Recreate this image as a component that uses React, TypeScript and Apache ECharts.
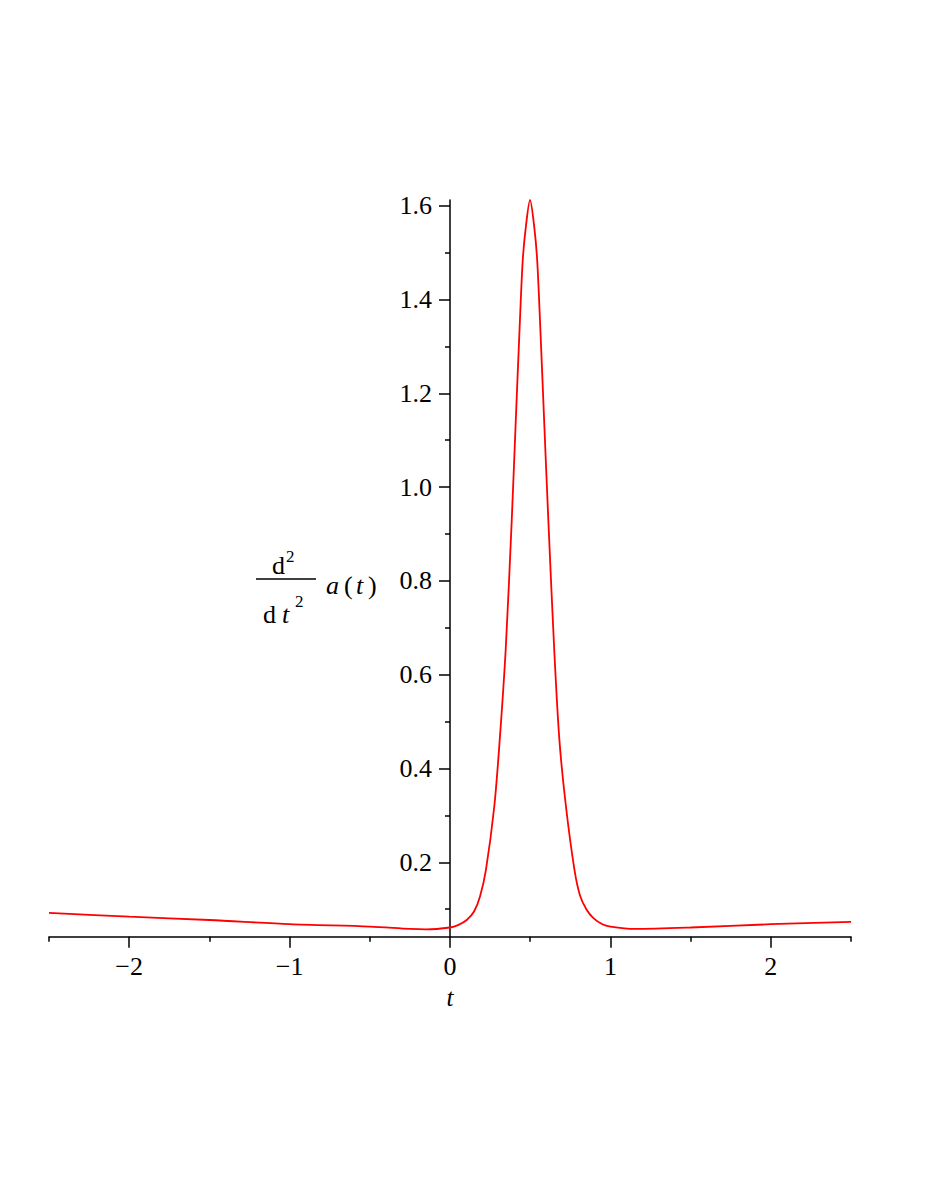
import React, { useEffect, useRef } from "react";
import * as echarts from "echarts";

// Sample points: t and d²a/dt²
const tValues = [
  -2.5, -2.0, -1.5, -1.0, -0.5, -0.25, -0.15, 0.0, 0.05, 0.104, 0.15, 0.187,
  0.224, 0.276, 0.31, 0.347, 0.385, 0.409, 0.434, 0.453, 0.472, 0.499, 0.526,
  0.544, 0.563, 0.588, 0.613, 0.65, 0.682, 0.723, 0.776, 0.81, 0.85, 0.894,
  0.95, 1.0, 1.15, 1.5, 2.0, 2.5,
];
const d2aValues = [
  0.092, 0.084, 0.077, 0.068, 0.063, 0.058, 0.057, 0.061, 0.066, 0.077, 0.095,
  0.127, 0.184, 0.319, 0.461, 0.652, 0.93, 1.133, 1.339, 1.481, 1.552, 1.612,
  1.552, 1.481, 1.339, 1.133, 0.93, 0.652, 0.461, 0.319, 0.184, 0.13, 0.1,
  0.081, 0.068, 0.063, 0.058, 0.061, 0.068, 0.073,
];

const xMajorTicks = [-2, -1, 0, 1, 2];
const xMinorTicks = [-2.5, -1.5, -0.5, 0.5, 1.5, 2.5];
const yMajorTicks = [0.2, 0.4, 0.6, 0.8, 1.0, 1.2, 1.4, 1.6];
const yMinorTicks = [0.1, 0.3, 0.5, 0.7, 0.9, 1.1, 1.3, 1.5];

const X_MIN = -2.5;
const X_MAX = 2.5;
const Y_MIN = 0.0414;
const Y_MAX = 1.612;

const GRID_LEFT = 49;
const GRID_RIGHT = 75;
const CHART_W = 926;
const FONT = '"Liberation Serif", "Times New Roman", serif';

export default function App() {
  const ref = useRef<HTMLDivElement>(null);

  useEffect(() => {
    if (!ref.current) return;
    const chart = echarts.init(ref.current, null, { renderer: "svg" });
    const data = tValues.map((t, i) => [t, d2aValues[i]]);
    const plotW = CHART_W - GRID_LEFT - GRID_RIGHT;
    // shift the y axis so it sits at t = 0
    const yOffset = -((0 - X_MIN) / (X_MAX - X_MIN)) * plotW;

    const txt = (x: number, y: number, text: string, size: number, italic = false) => ({
      type: "text",
      x,
      y,
      style: {
        text,
        fontFamily: FONT,
        fontSize: size,
        fontStyle: italic ? "italic" : "normal",
        fill: "#000",
        textAlign: "left",
        textVerticalAlign: "bottom",
      },
    });

    chart.setOption({
      animation: false,
      backgroundColor: "#fff",
      grid: { left: GRID_LEFT, right: GRID_RIGHT, top: 200, bottom: 262.3, containLabel: false },
      xAxis: [
        {
          type: "value",
          position: "bottom",
          min: X_MIN,
          max: X_MAX,
          axisLine: { show: true, onZero: false, lineStyle: { color: "#000", width: 1.5 } },
          splitLine: { show: false },
          axisTick: {
            show: true,
            customValues: xMajorTicks,
            length: 11,
            lineStyle: { color: "#000", width: 1.5 },
          },
          axisLabel: {
            customValues: xMajorTicks,
            margin: 17,
            fontFamily: FONT,
            fontSize: 26,
            color: "#000",
            formatter: (v: number) => (v < 0 ? "\u2212" + Math.abs(v) : String(v)),
          },
          name: "t",
          nameLocation: "middle",
          nameGap: 46,
          nameTextStyle: { fontFamily: FONT, fontSize: 25, fontStyle: "italic", color: "#000" },
        },
        {
          type: "value",
          position: "bottom",
          min: X_MIN,
          max: X_MAX,
          axisLine: { show: false, onZero: false },
          splitLine: { show: false },
          axisTick: {
            show: true,
            customValues: xMinorTicks,
            length: 5,
            lineStyle: { color: "#000", width: 1.5 },
          },
          axisLabel: { show: false },
        },
      ],
      yAxis: [
        {
          type: "value",
          min: Y_MIN,
          max: Y_MAX,
          position: "left",
          offset: yOffset,
          axisLine: { show: true, onZero: false, lineStyle: { color: "#000", width: 1.5 } },
          splitLine: { show: false },
          axisTick: {
            show: true,
            customValues: yMajorTicks,
            length: 11,
            lineStyle: { color: "#000", width: 1.5 },
          },
          axisLabel: {
            customValues: yMajorTicks,
            margin: 18,
            fontFamily: FONT,
            fontSize: 26,
            color: "#000",
            formatter: (v: number) => v.toFixed(1),
          },
        },
        {
          type: "value",
          min: Y_MIN,
          max: Y_MAX,
          position: "left",
          offset: yOffset,
          axisLine: { show: false, onZero: false },
          splitLine: { show: false },
          axisTick: {
            show: true,
            customValues: yMinorTicks,
            length: 5,
            lineStyle: { color: "#000", width: 1.5 },
          },
          axisLabel: { show: false },
        },
      ],
      graphic: [
        txt(272, 578, "d", 26),
        txt(286, 565, "2", 17),
        {
          type: "line",
          shape: { x1: 256, y1: 579, x2: 316, y2: 579 },
          style: { stroke: "#000", lineWidth: 1.5 },
        },
        txt(263, 627, "d", 26),
        txt(282, 627, "t", 26, true),
        txt(295, 610, "2", 17),
        txt(326, 598, "a", 26, true),
        txt(344, 598, "(", 26),
        txt(356, 598, "t", 26, true),
        txt(368, 598, ")", 26),
      ],
      series: [
        {
          type: "line",
          xAxisIndex: 0,
          yAxisIndex: 0,
          data,
          showSymbol: false,
          smooth: 0.3,
          lineStyle: { color: "#ff0000", width: 1.8 },
          itemStyle: { color: "#ff0000" },
        },
      ],
    });
    return () => chart.dispose();
  }, []);

  return (
    <div
      ref={ref}
      style={{ width: CHART_W, height: 1199, position: "absolute", left: 0, top: 0 }}
    />
  );
}
